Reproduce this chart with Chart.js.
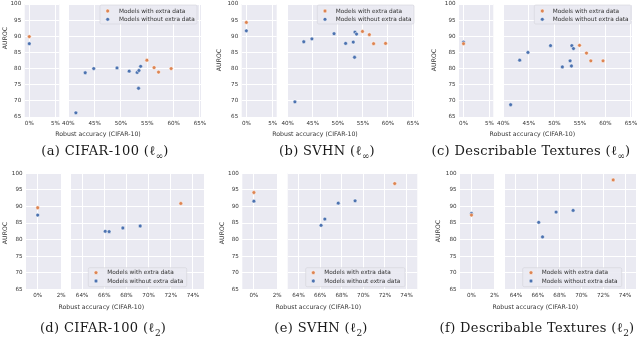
<!DOCTYPE html>
<html>
<head>
<meta charset="utf-8">
<script src="https://cdn.jsdelivr.net/npm/chart.js@4.4.0/dist/chart.umd.min.js"></script>
<style>
  body { margin: 0; width: 640px; height: 338px; position: relative; overflow: hidden; background: #fff; font-family: "DejaVu Sans", sans-serif; }
  canvas { position: absolute; }
  .t { position: absolute; white-space: nowrap; color: #333; transform: translate(-50%, -50%); }
  .xt { font-size: 6.2px; }
  .yt { font-size: 6.2px; transform: translate(-50%, -50%) rotate(-90deg); }
  .cap { font-family: "DejaVu Serif", serif; font-size: 13px; letter-spacing: 0.35px; color: #1a1a1a; }
  .cap sub { font-size: 9px; letter-spacing: 0; }
</style>
</head>
<body>
<script>
// robust accuracy on CIFAR-10 (%), 0 = standard model
const linfAccNoExtra = [0, 41.44, 43.21, 44.83, 49.25, 51.56, 53.08, 53.34, 53.42, 53.74];
const linfAccExtra   = [0, 54.92, 56.29, 57.14, 59.53];
const l2AccNoExtra   = [0, 66.09, 66.44, 67.68, 69.24];
const l2AccExtra     = [0, 72.91];

// AUROC, same order as the accuracy arrays
const cifar100LinfNoExtra = [87.7, 66.3, 78.7, 80.0, 80.2, 79.2, 78.8, 73.9, 79.4, 80.7];
const cifar100LinfExtra   = [89.9, 82.6, 80.3, 78.9, 80.0];
const svhnLinfNoExtra     = [91.7, 69.7, 88.3, 89.2, 90.8, 87.8, 88.2, 83.5, 91.3, 90.7];
const svhnLinfExtra       = [94.3, 91.5, 90.5, 87.7, 87.8];
const dtdLinfNoExtra      = [88.2, 68.8, 82.6, 85.0, 87.1, 80.5, 82.4, 80.8, 87.1, 86.2];
const dtdLinfExtra        = [87.7, 87.2, 84.8, 82.4, 82.4];
const cifar100L2NoExtra   = [87.4, 82.5, 82.4, 83.5, 84.1];
const cifar100L2Extra     = [89.6, 90.9];
const svhnL2NoExtra       = [91.6, 84.3, 86.2, 91.0, 91.7];
const svhnL2Extra         = [94.2, 96.9];
const dtdL2NoExtra        = [87.9, 85.2, 80.8, 88.3, 88.8];
const dtdL2Extra          = [87.4, 98.0];

// tick labels
const yTicks = [65, 70, 75, 80, 85, 90, 95, 100];
const linfLeftTicks = [0, 5];
const linfRightTicks = [40, 45, 50, 55, 60, 65];
const l2LeftTicks = [0, 2];
const l2RightTicks = [64, 66, 68, 70, 72, 74];

const seriesLabels = ['Models with extra data', 'Models without extra data'];
const ORANGE = '#DD8452', BLUE = '#4C72B0';

const NORMS = {
  linf: { accNo: linfAccNoExtra, accEx: linfAccExtra,
          L: { min: -0.88, max: 5.75, ticks: linfLeftTicks },
          R: { min: 40, max: 65.2, ticks: linfRightTicks } },
  l2:   { accNo: l2AccNoExtra, accEx: l2AccExtra,
          L: { min: -1, max: 2.05, ticks: l2LeftTicks },
          R: { min: 63, max: 75, ticks: l2RightTicks } }
};

const subplots = [
  { cap: '(a) CIFAR-100 (ℓ<sub>∞</sub>)', norm: 'linf', no: cifar100LinfNoExtra, ex: cifar100LinfExtra,
    top: 4, bottom: 117, L: [24.7, 59.3], R: [68.3, 201],
    legend: { box: [100, 5, 197, 24], mx: 107.7, tx: 119, rows: [11, 19.3] },
    xTitle: [98, 132.7], yTitle: [4, 38], capPos: [105, 152] },
  { cap: '(b) SVHN (ℓ<sub>∞</sub>)', norm: 'linf', no: svhnLinfNoExtra, ex: svhnLinfExtra,
    top: 4, bottom: 117, L: [241.7, 276.7], R: [287.7, 414],
    legend: { box: [317.3, 5, 414, 24], mx: 325, tx: 335.7, rows: [11, 19.3] },
    xTitle: [315, 132.7], yTitle: [218.3, 60], capPos: [327, 152] },
  { cap: '(c) Describable Textures (ℓ<sub>∞</sub>)', norm: 'linf', no: dtdLinfNoExtra, ex: dtdLinfExtra,
    top: 4, bottom: 117, L: [459, 493.3], R: [503.3, 632],
    legend: { box: [534.3, 5, 631, 24], mx: 542.3, tx: 552.7, rows: [11, 19.3] },
    xTitle: [532.3, 132.7], yTitle: [433.3, 60], capPos: [531, 152] },
  { cap: '(d) CIFAR-100 (ℓ<sub>2</sub>)', norm: 'l2', no: cifar100L2NoExtra, ex: cifar100L2Extra,
    top: 173.3, bottom: 289.3, L: [26, 61.7], R: [71, 204],
    legend: { box: [88.3, 267.7, 186.7, 286.7], mx: 96, tx: 107.3, rows: [272.7, 281] },
    xTitle: [101.3, 305.7], yTitle: [4, 233], capPos: [103, 329] },
  { cap: '(e) SVHN (ℓ<sub>2</sub>)', norm: 'l2', no: svhnL2NoExtra, ex: svhnL2Extra,
    top: 173.3, bottom: 289.3, L: [242.3, 277.7], R: [287.7, 417.3],
    legend: { box: [305.7, 267.7, 405, 286.7], mx: 313.3, tx: 324.3, rows: [272.7, 281] },
    xTitle: [318.3, 305.7], yTitle: [220.7, 233], capPos: [321, 329] },
  { cap: '(f) Describable Textures (ℓ<sub>2</sub>)', norm: 'l2', no: dtdL2NoExtra, ex: dtdL2Extra,
    top: 173.3, bottom: 289.3, L: [460, 495], R: [505, 636],
    legend: { box: [522.7, 267.7, 621.7, 286.7], mx: 531, tx: 541.7, rows: [272.7, 281] },
    xTitle: [535.3, 305.7], yTitle: [437.3, 231], capPos: [537, 329] }
];

const tickFont = { family: 'DejaVu Sans', size: 5.6 };

const bgPlugin = {
  id: 'plotBg',
  beforeDraw(chart) {
    const { ctx, chartArea: a } = chart;
    ctx.save();
    ctx.fillStyle = '#EAEAF2';
    ctx.fillRect(a.left, a.top, a.right - a.left, a.bottom - a.top);
    ctx.restore();
  }
};

function legendPlugin(lg, offX, offY) {
  return {
    id: 'boxLegend',
    afterDraw(chart) {
      const ctx = chart.ctx;
      const [x0, y0, x1, y1] = lg.box;
      ctx.save();
      ctx.beginPath();
      ctx.roundRect(x0 - offX, y0 - offY, x1 - x0, y1 - y0, 1.5);
      ctx.fillStyle = 'rgba(234,234,242,0.9)';
      ctx.fill();
      ctx.strokeStyle = '#d4d4da';
      ctx.lineWidth = 0.6;
      ctx.stroke();
      chart.data.datasets.forEach((ds, i) => {
        const y = lg.rows[i] - offY;
        ctx.beginPath();
        ctx.arc(lg.mx - offX, y, 1.9, 0, Math.PI * 2);
        ctx.fillStyle = ds.backgroundColor;
        ctx.fill();
        ctx.strokeStyle = '#fff';
        ctx.lineWidth = 0.5;
        ctx.stroke();
        ctx.fillStyle = '#333';
        ctx.font = '5.8px "DejaVu Sans"';
        ctx.textBaseline = 'middle';
        ctx.fillText(ds.label, lg.tx - offX, y);
      });
      ctx.restore();
    }
  };
}

const pts = (xs, ys) => xs.map((x, i) => ({ x: x, y: ys[i] }));

function makePanel(sp, side) {
  const norm = NORMS[sp.norm];
  const rng = norm[side];
  const [px0, px1] = sp[side];
  const yW = side === 'L' ? 22 : 8;
  const left = Math.floor(px0 - yW), top = Math.floor(sp.top - 6);
  const w = Math.ceil(px1 + 9) - left, h = Math.ceil(sp.bottom + 14) - top;
  const axW = px0 - left, padTop = sp.top - top, padRight = left + w - px1, axH = top + h - sp.bottom;

  const c = document.createElement('canvas');
  c.width = w; c.height = h;
  c.style.left = left + 'px'; c.style.top = top + 'px';
  c.style.width = w + 'px'; c.style.height = h + 'px';
  document.body.appendChild(c);

  const plugins = [bgPlugin];
  if (side === 'R') plugins.push(legendPlugin(sp.legend, left, top));

  new Chart(c, {
    type: 'scatter',
    data: {
      datasets: [
        { label: seriesLabels[0], data: pts(norm.accEx, sp.ex), backgroundColor: ORANGE },
        { label: seriesLabels[1], data: pts(norm.accNo, sp.no), backgroundColor: BLUE }
      ]
    },
    options: {
      responsive: false,
      animation: false,
      devicePixelRatio: 1,
      layout: { autoPadding: false, padding: { left: 0, top: padTop, right: padRight, bottom: 0 } },
      elements: { point: { radius: 1.9, borderWidth: 0.5, borderColor: '#fff', hoverRadius: 1.9 } },
      plugins: { legend: { display: false }, tooltip: { enabled: false } },
      scales: {
        x: {
          type: 'linear', min: rng.min, max: rng.max,
          afterBuildTicks: s => { s.ticks = rng.ticks.map(v => ({ value: v })); },
          afterFit: s => { s.height = axH; s.paddingLeft = 0; s.paddingRight = 0; },
          ticks: { callback: v => v + '%', font: tickFont, color: '#333', padding: 3, maxRotation: 0, minRotation: 0, autoSkip: false },
          grid: { color: '#fff', lineWidth: 1, drawTicks: false },
          border: { display: false }
        },
        y: {
          type: 'linear', min: 65, max: 100,
          afterBuildTicks: s => { s.ticks = yTicks.map(v => ({ value: v })); },
          afterFit: s => { s.width = axW; s.paddingTop = 0; s.paddingBottom = 0; },
          ticks: { display: side === 'L', font: tickFont, color: '#333', padding: 3.5 },
          grid: { color: '#fff', lineWidth: 1, drawTicks: false },
          border: { display: false }
        }
      }
    },
    plugins: plugins
  });
}

function addText(cls, html, pos) {
  const d = document.createElement('div');
  d.className = 't ' + cls;
  d.innerHTML = html;
  d.style.left = pos[0] + 'px';
  d.style.top = pos[1] + 'px';
  document.body.appendChild(d);
}

subplots.forEach(sp => {
  makePanel(sp, 'L');
  makePanel(sp, 'R');
  addText('xt', 'Robust accuracy (CIFAR-10)', sp.xTitle);
  addText('yt', 'AUROC', sp.yTitle);
  addText('cap', sp.cap, sp.capPos);
});
</script>
</body>
</html>
